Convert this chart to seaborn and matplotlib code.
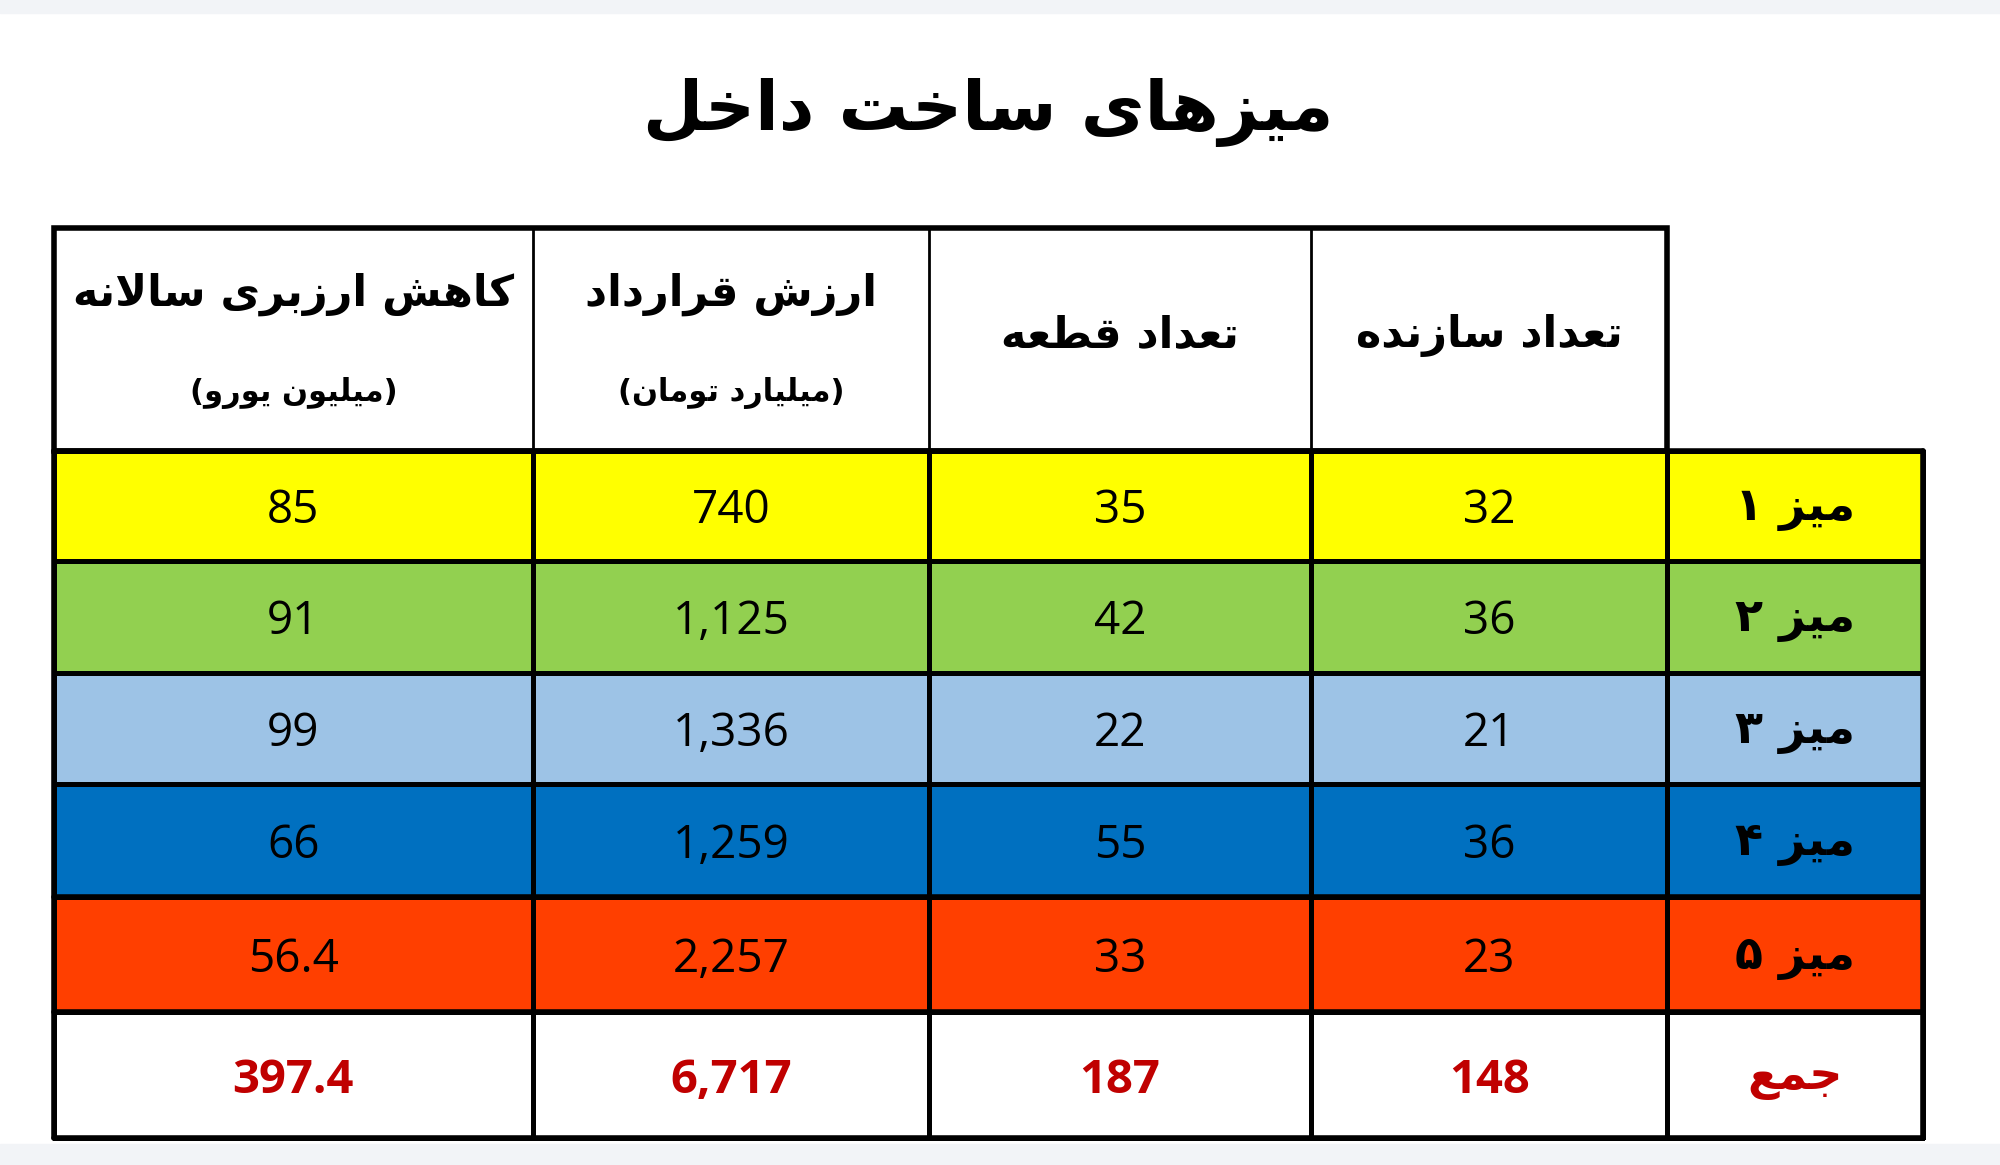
import matplotlib
matplotlib.use("Agg")
import matplotlib.pyplot as plt
import seaborn as sns
import numpy as np
from matplotlib.colors import ListedColormap

sns.set_theme(style="white")
plt.rcParams['font.family'] = ['DejaVu Sans']
plt.rcParams['text.color'] = 'black'

# ---------- minimal Persian shaper ----------
FORMS = {
 'ا': (0xFE8D, 0xFE8E, None, None), 'ب': (0xFE8F, 0xFE90, 0xFE91, 0xFE92),
 'ت': (0xFE95, 0xFE96, 0xFE97, 0xFE98), 'ج': (0xFE9D, 0xFE9E, 0xFE9F, 0xFEA0),
 'خ': (0xFEA5, 0xFEA6, 0xFEA7, 0xFEA8), 'د': (0xFEA9, 0xFEAA, None, None),
 'ر': (0xFEAD, 0xFEAE, None, None), 'ز': (0xFEAF, 0xFEB0, None, None),
 'س': (0xFEB1, 0xFEB2, 0xFEB3, 0xFEB4), 'ش': (0xFEB5, 0xFEB6, 0xFEB7, 0xFEB8),
 'ط': (0xFEC1, 0xFEC2, 0xFEC3, 0xFEC4), 'ع': (0xFEC9, 0xFECA, 0xFECB, 0xFECC),
 'ق': (0xFED5, 0xFED6, 0xFED7, 0xFED8), 'ل': (0xFEDD, 0xFEDE, 0xFEDF, 0xFEE0),
 'م': (0xFEE1, 0xFEE2, 0xFEE3, 0xFEE4), 'ن': (0xFEE5, 0xFEE6, 0xFEE7, 0xFEE8),
 'ه': (0xFEE9, 0xFEEA, 0xFEEB, 0xFEEC), 'و': (0xFEED, 0xFEEE, None, None),
 'ک': (0xFB8E, 0xFB8F, 0xFB90, 0xFB91), 'ی': (0xFBFC, 0xFBFD, 0xFBFE, 0xFBFF),
 'ﻻ': (0xFEFB, 0xFEFC, None, None),
}

def shape(s):
    s = s.replace('لا', 'ﻻ')
    out = []
    for i, c in enumerate(s):
        if c not in FORMS:
            out.append(c); continue
        p = s[i-1] if i > 0 else None
        n = s[i+1] if i + 1 < len(s) else None
        jp = p in FORMS and FORMS[p][2] is not None
        jn = n in FORMS and FORMS[c][2] is not None
        f = FORMS[c]
        if c == 'ﻻ':
            code = f[1] if jp else f[0]
        elif jp and jn: code = f[3]
        elif jp: code = f[1]
        elif jn: code = f[2]
        else: code = f[0]
        out.append(chr(code))
    return ''.join(out[::-1])

# ---------- data ----------
title = "میزهای ساخت داخل"
headers = [("کاهش ارزبری سالانه", "میلیون یورو"),
           ("ارزش قرارداد", "میلیارد تومان"),
           ("تعداد قطعه", None),
           ("تعداد سازنده", None)]
row_labels = ["میز ۱", "میز ۲", "میز ۳", "میز ۴", "میز ۵"]
total_label = "جمع"
annual = ["85", "91", "99", "66", "56.4"]
contract = ["740", "1,125", "1,336", "1,259", "2,257"]
parts = ["35", "42", "22", "55", "33"]
makers = ["32", "36", "21", "36", "23"]
totals = ["397.4", "6,717", "187", "148"]
row_colors = ["#FFFF00", "#92D050", "#9DC3E6", "#0070C0", "#FF3F00", "#FFFFFF"]

# ---------- layout ----------
W, H = 1568, 909
fig = plt.figure(figsize=(20, 11.65), dpi=100)
ax = fig.add_axes([0, 0, 1, 1])
ax.set_xlim(0, W); ax.set_ylim(H, 0); ax.axis('off')
ax.add_patch(plt.Rectangle((0, 0), W, 10, color="#F2F4F7", zorder=0))
ax.add_patch(plt.Rectangle((0, 893), W, 16, color="#F2F4F7", zorder=0))

xe = np.array([42, 418, 728, 1028, 1307, 1508])
ye = np.array([352, 438, 525, 612, 700, 790, 888])
Z = np.arange(6).reshape(6, 1) * np.ones((1, 5))
ax.pcolormesh(xe, ye, Z, cmap=ListedColormap(row_colors), vmin=-0.5, vmax=5.5,
              edgecolors="black", linewidth=2.5, zorder=1)
for yy in [352, 700, 790, 888]:
    ax.plot([42, 1508], [yy, yy], color="black", lw=4, zorder=3)
for xx in [42, 1508]:
    ax.plot([xx, xx], [352, 888], color="black", lw=4, zorder=3)

# header
ax.add_patch(plt.Rectangle((42, 178), 1307 - 42, 352 - 178, fc="white",
                           ec="black", lw=4, zorder=2))
for xx in xe[1:4]:
    ax.plot([xx, xx], [178, 352], color="black", lw=2, zorder=3)
for i, (h1, h2) in enumerate(headers):
    cx = (xe[i] + xe[i+1]) / 2
    if h2:
        ax.text(cx, 230, shape(h1), ha='center', va='center', fontsize=31, fontweight='bold', zorder=4)
        ax.text(cx, 307, "(" + shape(h2) + ")", ha='center', va='center', fontsize=22, fontweight='bold', zorder=4)
    else:
        ax.text(cx, 262, shape(h1), ha='center', va='center', fontsize=31, fontweight='bold', zorder=4)

ax.text(775, 88, shape(title), ha='center', va='center', fontsize=50, fontweight='bold')

cols = [annual, contract, parts, makers]
for r in range(5):
    cy = (ye[r] + ye[r+1]) / 2 + 4
    for c in range(4):
        cx = (xe[c] + xe[c+1]) / 2
        ax.text(cx, cy, cols[c][r], ha='center', va='center', fontsize=33,
                family=['Open Sans', 'DejaVu Sans'], zorder=4)
    ax.text(1407, cy - 2, shape(row_labels[r]), ha='center', va='center', fontsize=33,
            fontweight='bold', zorder=4)
cy = (ye[5] + ye[6]) / 2 + 4
for c in range(4):
    cx = (xe[c] + xe[c+1]) / 2
    ax.text(cx, cy, totals[c], ha='center', va='center', fontsize=34, fontweight='bold',
            color="#C00000", family=['Open Sans', 'DejaVu Sans'], zorder=4)
ax.text(1407, cy - 2, shape(total_label), ha='center', va='center', fontsize=33,
        fontweight='bold', color="#C00000", zorder=4)

fig.savefig("out.png", dpi=100, facecolor="white")
